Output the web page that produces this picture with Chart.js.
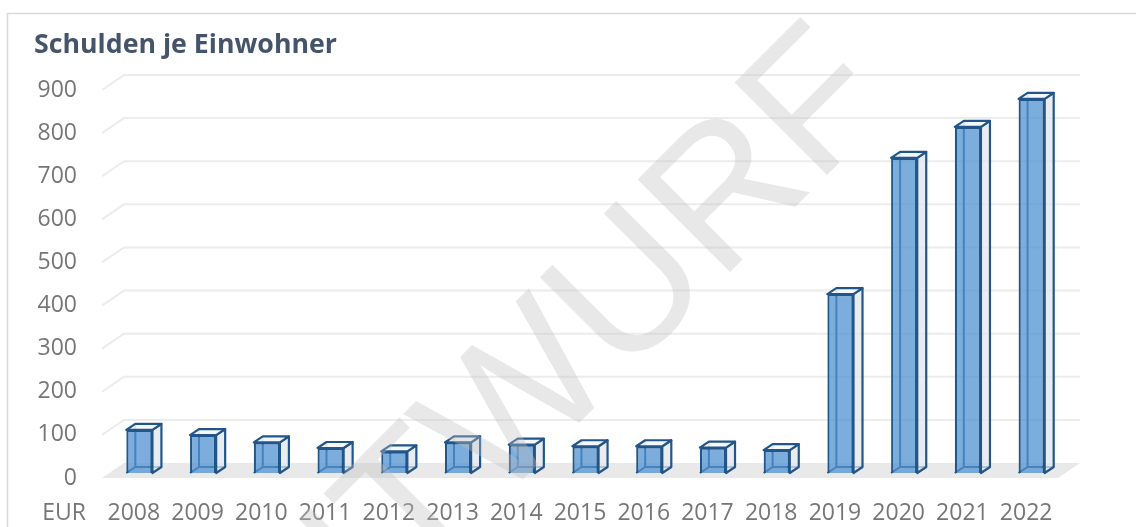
<!DOCTYPE html>
<html><head><meta charset="utf-8">
<script src="https://cdn.jsdelivr.net/npm/chart.js@4/dist/chart.umd.min.js"></script>
<style>html,body{margin:0;padding:0;background:#fff}#wrap{width:1136px;height:527px;position:relative}</style>
</head><body><div id="wrap"><canvas id="c"></canvas></div>
<script>
const categories = ['2008','2009','2010','2011','2012','2013','2014','2015','2016','2017','2018','2019','2020','2021','2022'];
const values = [100, 88, 71, 58, 50, 71, 66, 62, 62, 59, 53, 415, 731, 803, 868];
const yTickValues = [0,100,200,300,400,500,600,700,800,900];
const chartTitle = 'Schulden je Einwohner';
const unitLabel = 'EUR';
const watermarkText = 'ENTWURF';

const FONT = '"Open Sans", "Liberation Sans", sans-serif';
const D = {fx:5.5, fy:-5, bx:9, by:-6, wx:22, wy:-15};
const EDGE = '#22568A';
const TEXT = '#767676';

function barGeom(el){
  const p = el.getProps(['x','y','base','width'], true);
  const L = p.x - p.width/2 + D.fx, R = p.x + p.width/2 + D.fx;
  const T = p.y + D.fy, B = p.base + D.fy;
  return {L,R,T,B};
}

const threeD = {
  id:'threeD',
  beforeDraw(chart){
    const ctx = chart.ctx, {left,right} = chart.chartArea, ys = chart.scales.y;
    ctx.save();
    ctx.fillStyle = '#fff'; ctx.fillRect(0,0,chart.width,chart.height);
    ctx.strokeStyle = '#D9D9D9'; ctx.lineWidth = 1.5;
    ctx.beginPath(); ctx.moveTo(7.5,chart.height); ctx.lineTo(7.5,13.5); ctx.lineTo(chart.width,13.5); ctx.stroke();
    // title
    let s = 24; ctx.font = `bold ${s}px ${FONT}`;
    const w = ctx.measureText(chartTitle).width; s = s*303/w;
    ctx.font = `bold ${s}px ${FONT}`; ctx.fillStyle = '#44546A';
    ctx.textAlign = 'left'; ctx.textBaseline = 'alphabetic';
    ctx.fillText(chartTitle, 34, 53);
    // back wall gridlines
    ctx.strokeStyle = '#ECECEC'; ctx.lineWidth = 2;
    ys.ticks.forEach(t => {
      if (t.value === 0) return;
      const y = ys.getPixelForValue(t.value);
      ctx.beginPath(); ctx.moveTo(left,y); ctx.lineTo(left+D.wx,y+D.wy); ctx.lineTo(right+D.wx,y+D.wy); ctx.stroke();
    });
    // floor
    const y0 = ys.getPixelForValue(0);
    ctx.fillStyle = '#E9E9E9';
    ctx.beginPath(); ctx.moveTo(left,y0); ctx.lineTo(right,y0); ctx.lineTo(right+D.wx,y0+D.wy); ctx.lineTo(left+D.wx,y0+D.wy); ctx.closePath(); ctx.fill();
    ctx.restore();
  },
  beforeDatasetsDraw(chart){
    const ctx = chart.ctx;
    ctx.save();
    ctx.strokeStyle = EDGE; ctx.lineWidth = 2; ctx.lineJoin='round';
    chart.getDatasetMeta(0).data.forEach(el => {
      const {L,R,T,B} = barGeom(el);
      ctx.beginPath();
      ctx.moveTo(L+D.bx, T+D.by); ctx.lineTo(L+D.bx, B+D.by); ctx.lineTo(R+D.bx, B+D.by);
      ctx.moveTo(L, B); ctx.lineTo(L+D.bx, B+D.by);
      ctx.stroke();
    });
    ctx.restore();
    ctx.save();
    ctx.translate(D.fx, D.fy);
  },
  afterDatasetsDraw(chart){
    const ctx = chart.ctx;
    ctx.restore();
    ctx.save();
    ctx.strokeStyle = EDGE; ctx.lineWidth = 2.2; ctx.lineJoin='round';
    chart.getDatasetMeta(0).data.forEach(el => {
      const {L,R,T,B} = barGeom(el);
      ctx.fillStyle = 'rgba(226,231,238,0.75)';
      ctx.beginPath(); ctx.moveTo(R,T); ctx.lineTo(R+D.bx,T+D.by); ctx.lineTo(R+D.bx,B+D.by); ctx.lineTo(R,B); ctx.closePath();
      ctx.fill(); ctx.stroke();
      ctx.fillStyle = 'rgba(244,247,250,0.9)';
      ctx.beginPath(); ctx.moveTo(L,T); ctx.lineTo(R,T); ctx.lineTo(R+D.bx,T+D.by); ctx.lineTo(L+D.bx,T+D.by); ctx.closePath();
      ctx.fill(); ctx.stroke();
    });
    ctx.restore();
  },
  afterDraw(chart){
    const ctx = chart.ctx, xs = chart.scales.x;
    ctx.save();
    ctx.font = `23px ${FONT}`; ctx.fillStyle = TEXT;
    ctx.textAlign = 'center'; ctx.textBaseline = 'middle';
    ctx.fillText(unitLabel, 64, xs.top + 35);
    ctx.translate(898, 104);
    ctx.rotate(-Math.PI/4);
    ctx.font = '190px "Liberation Sans", Arial, sans-serif';
    ctx.fillStyle = 'rgba(190,190,190,0.36)';
    ctx.textAlign = 'right'; ctx.textBaseline = 'alphabetic';
    ctx.fillText(watermarkText, 0, 0);
    ctx.restore();
  }
};

new Chart(document.getElementById('c'), {
  type: 'bar',
  data: {
    labels: categories,
    datasets: [{
      data: values,
      backgroundColor: 'rgba(80,145,210,0.75)',
      borderColor: EDGE,
      borderWidth: 2.2,
      barPercentage: 0.41,
      categoryPercentage: 1,
      clip: false
    }]
  },
  options: {
    responsive: true,
    maintainAspectRatio: false,
    animation: false,
    events: [],
    layout: { padding: { left: 30, right: 78, top: 90, bottom: 0 } },
    plugins: { legend: { display: false }, title: { display: false }, tooltip: { enabled: false } },
    scales: {
      x: {
        grid: { display: false, drawTicks: false }, border: { display: false },
        ticks: { color: TEXT, font: { family: FONT, size: 23 }, padding: 22, maxRotation: 0, autoSkip: false },
        afterFit: s => { s.height = 49; }
      },
      y: {
        min: 0, max: 900,
        grid: { display: false, drawTicks: false }, border: { display: false },
        afterBuildTicks: s => { s.ticks = yTickValues.map(v => ({ value: v })); },
        ticks: { color: TEXT, font: { family: FONT, size: 23 }, padding: 25 },
        afterFit: s => { s.width = 72; }
      }
    }
  },
  plugins: [threeD]
});
</script>
</body></html>
